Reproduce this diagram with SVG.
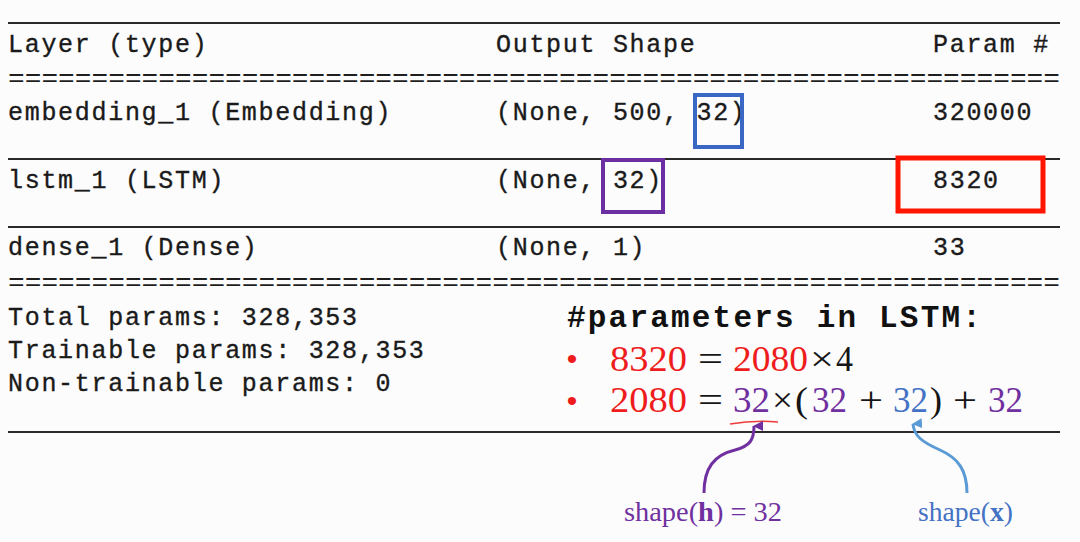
<svg xmlns="http://www.w3.org/2000/svg" width="1080" height="542" viewBox="0 0 1080 542">
<defs>
<style>
.mono{font-family:"Liberation Mono","DejaVu Sans Mono",monospace;font-size:25px;letter-spacing:1.7px;fill:#1a1a1a;stroke:#1a1a1a;stroke-width:0.35}
.eq{font-family:"Liberation Mono","DejaVu Sans Mono",monospace;font-size:25px;fill:#1e1e1e}
.title{font-family:"Liberation Mono","DejaVu Sans Mono",monospace;font-size:31px;font-weight:bold;letter-spacing:2.2px;fill:#111}
.rule{stroke:#2a2a2a;stroke-width:2;fill:none}
.m{font-family:"Liberation Serif","DejaVu Serif",serif;font-size:35px}
.red{fill:#ee1c1c}
.pur{fill:#7030a0}
.blu{fill:#4472c4}
.blk{fill:#151515}
.lbl{font-family:"Liberation Serif","DejaVu Serif",serif;font-size:28px}
.box{fill:none}
</style>
<marker id="ahP" viewBox="0 0 10 10" refX="5" refY="1" markerWidth="10" markerHeight="10" markerUnits="userSpaceOnUse" orient="auto-start-reverse">
<path d="M0,10 L5,0 L10,10 Z" fill="#7030a0"/>
</marker>
<marker id="ahB" viewBox="0 0 10 10" refX="5" refY="1" markerWidth="10" markerHeight="10" markerUnits="userSpaceOnUse" orient="auto-start-reverse">
<path d="M0,10 L5,0 L10,10 Z" fill="#5b9bd5"/>
</marker>
</defs>
<rect x="0" y="0" width="1080" height="542" fill="#fcfcfc"/>

<g id="table-rules">
<line class="rule" x1="8" y1="23" x2="1060" y2="23"/>
<line class="rule" x1="8" y1="159" x2="1060" y2="159"/>
<line class="rule" x1="8" y1="227" x2="1060" y2="227"/>
<line class="rule" x1="8" y1="432" x2="1060" y2="432"/>
<text class="eq" x="8" y="86" textLength="1052" lengthAdjust="spacingAndGlyphs">===============================================================</text>
<text class="eq" x="8" y="290" textLength="1052" lengthAdjust="spacingAndGlyphs">===============================================================</text>
</g>

<g id="header">
<text class="mono" x="8" y="52">Layer (type)</text>
<text class="mono" x="496" y="52">Output Shape</text>
<text class="mono" x="933" y="52">Param #</text>
</g>

<g id="row-embedding">
<text class="mono" x="8" y="120">embedding_1 (Embedding)</text>
<text class="mono" x="496" y="120">(None, 500, 32)</text>
<text class="mono" x="933" y="120">320000</text>
<rect class="box" x="695" y="95" width="47" height="52" stroke="#3a66c4" stroke-width="4"/>
</g>

<g id="row-lstm">
<text class="mono" x="8" y="188">lstm_1 (LSTM)</text>
<text class="mono" x="496" y="188">(None, 32)</text>
<text class="mono" x="933" y="188">8320</text>
<rect class="box" x="603" y="160" width="60" height="52" stroke="#6b2fa2" stroke-width="4"/>
<rect class="box" x="898" y="158" width="145" height="53" stroke="#ff1500" stroke-width="5"/>
</g>

<g id="row-dense">
<text class="mono" x="8" y="255">dense_1 (Dense)</text>
<text class="mono" x="496" y="255">(None, 1)</text>
<text class="mono" x="933" y="255">33</text>
</g>

<g id="summary">
<text class="mono" x="8" y="325">Total params: 328,353</text>
<text class="mono" x="8" y="358">Trainable params: 328,353</text>
<text class="mono" x="8" y="391">Non-trainable params: 0</text>
</g>

<g id="lstm-params">
<text class="title" x="567" y="327">#parameters in LSTM:</text>
<text class="red" x="572" y="369" font-family="Liberation Sans, sans-serif" font-size="30" text-anchor="middle">•</text>
<text class="red" x="572" y="411" font-family="Liberation Sans, sans-serif" font-size="30" text-anchor="middle">•</text>

<text class="m red" x="610" y="371" textLength="77" lengthAdjust="spacingAndGlyphs">8320</text>
<text class="m blk" x="698" y="371" textLength="25" lengthAdjust="spacingAndGlyphs">=</text>
<text class="m red" x="733" y="371" textLength="75" lengthAdjust="spacingAndGlyphs">2080</text>
<text class="m blk" x="810" y="371" textLength="24" lengthAdjust="spacingAndGlyphs">×</text>
<text class="m blk" x="836" y="371" textLength="17" lengthAdjust="spacingAndGlyphs">4</text>

<text class="m red" x="610" y="412" textLength="77" lengthAdjust="spacingAndGlyphs">2080</text>
<text class="m blk" x="698" y="412" textLength="25" lengthAdjust="spacingAndGlyphs">=</text>
<text class="m pur" x="733" y="412" textLength="37" lengthAdjust="spacingAndGlyphs">32</text>
<text class="m blk" x="772" y="412" textLength="21" lengthAdjust="spacingAndGlyphs">×</text>
<text class="m blk" x="795" y="412" textLength="13" lengthAdjust="spacingAndGlyphs">(</text>
<text class="m pur" x="812" y="412" textLength="35" lengthAdjust="spacingAndGlyphs">32</text>
<text class="m blk" x="859" y="412" textLength="24" lengthAdjust="spacingAndGlyphs">+</text>
<text class="m blu" x="893" y="412" textLength="35" lengthAdjust="spacingAndGlyphs">32</text>
<text class="m blk" x="930" y="412" textLength="12" lengthAdjust="spacingAndGlyphs">)</text>
<text class="m blk" x="953" y="412" textLength="24" lengthAdjust="spacingAndGlyphs">+</text>
<text class="m pur" x="988" y="412" textLength="35" lengthAdjust="spacingAndGlyphs">32</text>
<path d="M730,424 Q754,420 778,422" stroke="#ee3b3b" stroke-width="1.5" fill="none"/>
</g>

<g id="label-h">
<text class="lbl pur" x="624" y="521" textLength="158" lengthAdjust="spacingAndGlyphs">shape(<tspan font-weight="bold">h</tspan>) = 32</text>
</g>
<g id="label-x">
<text class="lbl blu" x="918" y="521" textLength="95" lengthAdjust="spacingAndGlyphs">shape(<tspan font-weight="bold">x</tspan>)</text>
</g>

<g id="connectors">
<path d="M704,493 C704,468 714,455 735,450 C750,446 754,440 754,426" stroke="#7030a0" stroke-width="3" fill="none" marker-end="url(#ahP)"/>
<path d="M967,493 C967,470 958,458 940,450 C922,442 914,436 913,424" stroke="#5b9bd5" stroke-width="3" fill="none" marker-end="url(#ahB)"/>
</g>
</svg>
